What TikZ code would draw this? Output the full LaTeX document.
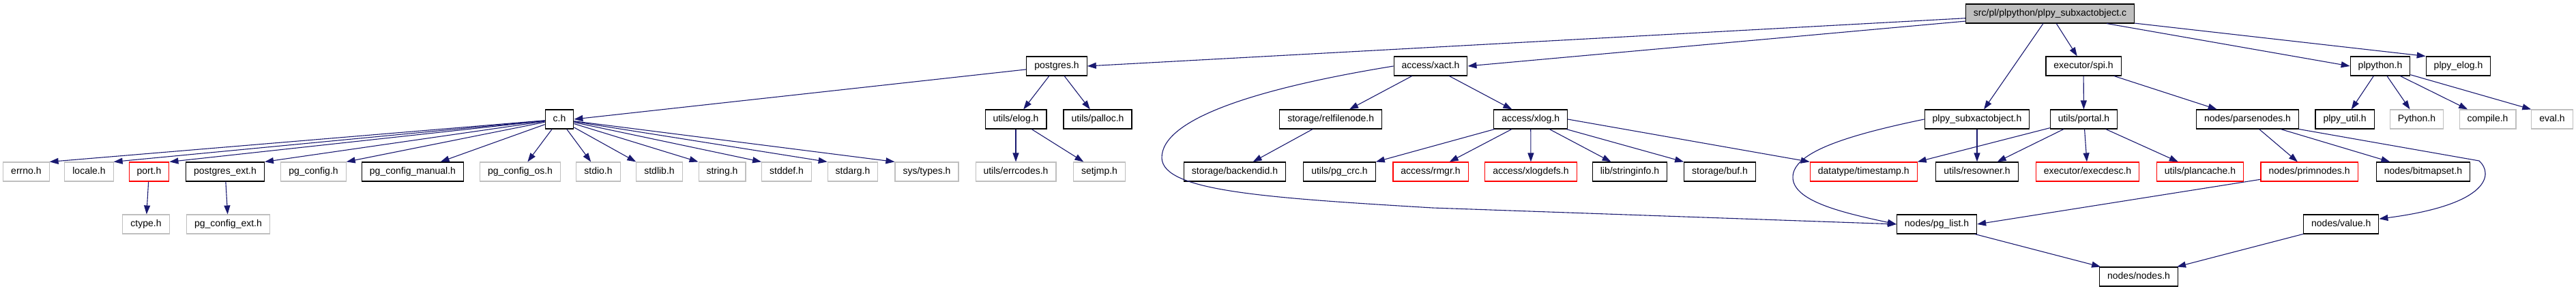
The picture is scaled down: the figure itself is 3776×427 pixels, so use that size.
\documentclass[tikz,border=0pt]{standalone}
\usepackage{fontspec}
\setmainfont{Liberation Sans}
\usetikzlibrary{arrows.meta}
\definecolor{edgeblue}{HTML}{191970}
\definecolor{extgray}{HTML}{BFBFBF}
\definecolor{cutred}{HTML}{FF0000}
\tikzset{
  hdr/.style={draw=black, line width=1.1pt, minimum height=28pt, inner xsep=11.5pt, inner ysep=0pt,
    text height=10pt, text depth=3pt, font=\fontsize{14}{16}\selectfont},
  ext/.style={hdr, draw=extgray},
  cut/.style={hdr, draw=cutred},
  dep/.style={draw=edgeblue, line width=1.1pt, -{Triangle[length=13pt,width=9pt]}},
}
\begin{document}
\begin{tikzpicture}[x=1pt,y=-1pt]
    \useasboundingbox (0,0) rectangle (3776,427);
    % file and its direct includes
    \node[hdr, fill=extgray] (top) at (3005,20) {src/pl/plpython/plpy\_subxactobject.c};
    \foreach \n/\x/\t in {postgres/1549/{postgres.h}, xact/2097/{access/xact.h}, spi/3054/{executor/spi.h},
        plpython/3489/{plpython.h}, plelog/3603.5/{plpy\_elog.h}}
        \node[hdr] (\n) at (\x,97) {\t};
    \foreach \n/\x/\s/\t in {ch/820/hdr/{c.h}, uelog/1489/hdr/{utils/elog.h}, palloc/1609/hdr/{utils/palloc.h},
        relfile/1950.7/hdr/{storage/relfilenode.h}, xlog/2243.7/hdr/{access/xlog.h},
        psub/2898/hdr/{plpy\_subxactobject.h}, portal/3054.5/hdr/{utils/portal.h},
        parse/3294.5/hdr/{nodes/parsenodes.h}, plutil/3437/hdr/{plpy\_util.h}, python/3542.5/ext/{Python.h},
        compile/3646.5/ext/{compile.h}, eval/3741/ext/{eval.h}}
        \node[\s] (\n) at (\x,175) {\t};
    \foreach \n/\x/\s/\t in {errno/38.4/ext/{errno.h}, locale/130.5/ext/{locale.h}, port/218.5/cut/{port.h},
        pgext/330/hdr/{postgres\_ext.h}, pgconf/459.5/ext/{pg\_config.h}, pgman/605/hdr/{pg\_config\_manual.h},
        pgos/762.5/ext/{pg\_config\_os.h}, stdio/877/ext/{stdio.h}, stdlib/966.5/ext/{stdlib.h},
        string/1058.5/ext/{string.h}, stddef/1153/ext/{stddef.h}, stdarg/1250/ext/{stdarg.h},
        systypes/1358.5/ext/{sys/types.h}, errcodes/1489/ext/{utils/errcodes.h}, setjmp/1611.5/ext/{setjmp.h},
        backend/1810/hdr/{storage/backendid.h}, pgcrc/1963.5/hdr/{utils/pg\_crc.h}, rmgr/2097/cut/{access/rmgr.h},
        xlogdefs/2244/cut/{access/xlogdefs.h}, strinfo/2389/hdr/{lib/stringinfo.h}, buf/2521/hdr/{storage/buf.h},
        tstamp/2731.7/cut/{datatype/timestamp.h}, resowner/2898/hdr/{utils/resowner.h},
        execdesc/3060/cut/{executor/execdesc.h}, plancache/3225/cut/{utils/plancache.h},
        primnodes/3385/cut/{nodes/primnodes.h}, bitmapset/3552/hdr/{nodes/bitmapset.h}}
        \node[\s] (\n) at (\x,252) {\t};
    \node[ext] (ctype) at (214,329) {ctype.h};
    \node[ext] (pgcext) at (334.5,329) {pg\_config\_ext.h};
    \node[hdr] (pglist) at (2839,329) {nodes/pg\_list.h};
    \node[hdr] (value) at (3431.7,329) {nodes/value.h};
    \node[hdr] (nodes) at (3135,406) {nodes/nodes.h};

    % connectors
    \draw[dep] (top) -- (postgres.east);
    \draw[dep] (top) -- (xact.east);
    \draw[dep] (top) -- (psub);
    \draw[dep] (top) -- (spi);
    \draw[dep] (top) -- (plpython.west);
    \draw[dep] (top) -- (plelog.north west);
    \draw[dep] (postgres) -- (ch.east);
    \foreach \t in {uelog,palloc} \draw[dep] (postgres) -- (\t);
    \foreach \t in {errno,locale,port,pgext,pgconf} \draw[dep] (ch) -- (\t.north east);
    \foreach \t in {pgman,pgos,stdio} \draw[dep] (ch) -- (\t);
    \foreach \t in {stdlib,string,stddef,stdarg,systypes} \draw[dep] (ch) -- (\t.north west);
    \draw[dep] (port) -- (ctype);
    \draw[dep] (pgext) -- (pgcext);
    \draw[dep] (uelog) -- (errcodes);
    \draw[dep] (uelog) -- (setjmp);
    \draw[dep] (xact) -- (relfile);
    \draw[dep] (xact) -- (xlog);
    \draw[dep] (xact.west) .. controls (1840,130) and (1702,175) .. (1703,232)
        .. controls (1705,280) and (1850,290) .. (2100,305) -- (pglist.west);
    \draw[dep] (relfile) -- (backend);
    \draw[dep] (xlog) -- (pgcrc.north east);
    \foreach \t in {rmgr,xlogdefs,strinfo} \draw[dep] (xlog) -- (\t);
    \draw[dep] (xlog) -- (buf.north west);
    \draw[dep] (xlog.east) -- (tstamp.north west);
    \draw[dep] (psub) -- (resowner);
    \draw[dep] (psub.west) .. controls (2700,200) and (2628,225) .. (2628,260)
        .. controls (2628,295) and (2700,312) .. (pglist.west);
    \draw[dep] (spi) -- (portal);
    \draw[dep] (spi) -- (parse);
    \draw[dep] (portal) -- (tstamp.north east);
    \foreach \t in {resowner,execdesc,plancache} \draw[dep] (portal) -- (\t);
    \draw[dep] (parse) -- (primnodes);
    \draw[dep] (parse) -- (bitmapset);
    \draw[dep] (parse.south east) -- (3634,236) .. controls (3655,255) and (3650,300) .. (value.8);
    \draw[dep] (primnodes) -- (pglist.east);
    \draw[dep] (pglist) -- (nodes);
    \draw[dep] (value) -- (nodes);
    \foreach \t in {plutil,python,compile} \draw[dep] (plpython) -- (\t);
    \draw[dep] (plpython) -- (eval.north west);
\end{tikzpicture}
\end{document}
